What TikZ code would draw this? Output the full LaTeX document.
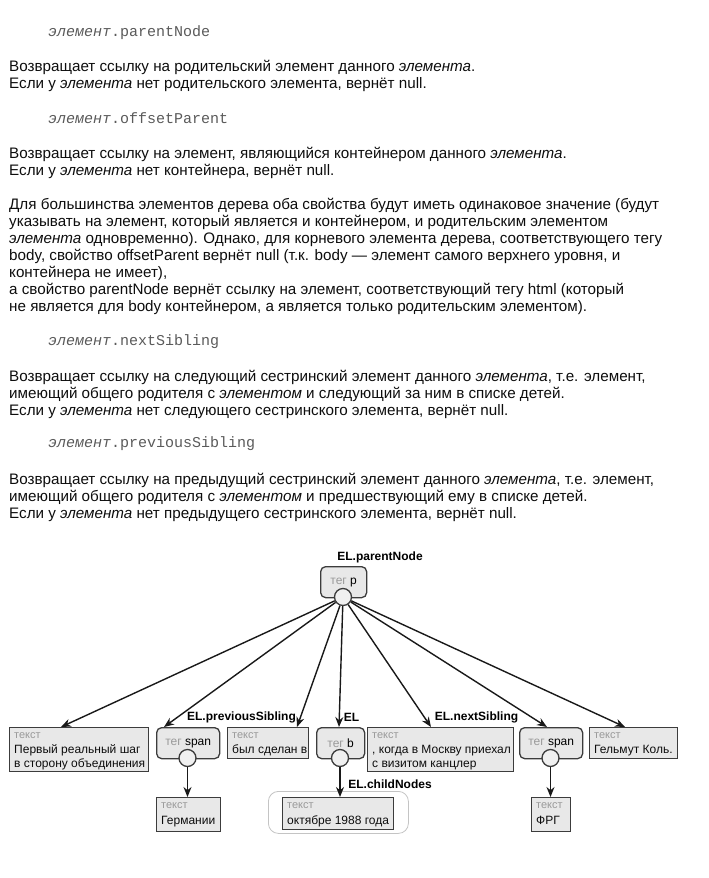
\documentclass[tikz,border=0pt]{standalone}
\usepackage{fontspec}
\setmainfont{Liberation Sans}
\setmonofont{Liberation Mono}
\usetikzlibrary{arrows.meta,calc}
\definecolor{boxfill}{HTML}{E8E8E8}
\definecolor{boxline}{HTML}{3C3C3C}
\definecolor{circfill}{HTML}{F0F0F0}
\definecolor{tgrey}{HTML}{9A9A9A}
\definecolor{monogrey}{HTML}{5A5A5A}
\definecolor{contline}{HTML}{C4C4C4}
\newcommand{\tg}{{\color{tgrey}тег}}
\begin{document}
\begin{tikzpicture}[x=1pt,y=-1pt,
  txt/.style={anchor=base west,inner sep=0pt,font=\fontsize{15.2}{17}\selectfont,text=black!95},
  mono/.style={anchor=base west,inner sep=0pt,font=\ttfamily\fontsize{15}{17}\selectfont,text=monogrey},
  tbox/.style={draw=boxline,fill=boxfill,line width=1.3pt,anchor=north west,inner sep=0pt},
  tagbox/.style={draw=boxline,fill=boxfill,line width=1.3pt,anchor=north west,rounded corners=5pt,inner sep=0pt,font=\fontsize{12}{14}\selectfont},
  circ/.style={circle,draw=boxline,fill=circfill,line width=1.3pt,minimum size=17pt,inner sep=0pt},
  lbl/.style={inner sep=0pt,font=\bfseries\fontsize{12}{14}\selectfont},
  bk/.style={anchor=base west,inner sep=0pt,font=\fontsize{11}{12}\selectfont,text=tgrey},
  bt/.style={anchor=base west,inner sep=0pt,font=\fontsize{12}{14}\selectfont,text=black!95},
  arr/.style={-{Stealth[length=10pt,width=8pt]},line width=1.4pt,draw=black!90},
  cont/.style={draw=contline,fill=white,line width=0.8pt,rounded corners=10pt,anchor=north west,inner sep=0pt}
]
\path[use as bounding box] (0,0) rectangle (709,878);

% ---- text ----
\node[mono] (m1) at (48,36) {{\itshape элемент}.parentNode};
\node[txt] (a1) at (9,71) {Возвращает ссылку на родительский элемент данного \textit{элемента}.};
\node[txt] (a2) at (9,88) {Если у \textit{элемента} нет родительского элемента, вернёт null.};
\node[mono] (m2) at (48,123) {{\itshape элемент}.offsetParent};
\node[txt] (b1) at (9,158) {Возвращает ссылку на элемент, являющийся контейнером данного \textit{элемента}.};
\node[txt] (b2) at (9,175) {Если у \textit{элемента} нет контейнера, вернёт null.};
\node[txt] (c1) at (9,209) {Для большинства элементов дерева оба свойства будут иметь одинаковое значение (будут};
\node[txt] (c2) at (9,226) {указывать на элемент, который является и контейнером, и родительским элементом};
\node[txt] (c3) at (9,243) {\textit{элемента} одновременно). Однако, для корневого элемента дерева, соответствующего тегу};
\node[txt] (c4) at (9,260) {body, свойство offsetParent вернёт null (т.к. body — элемент самого верхнего уровня, и};
\node[txt] (c5) at (9,277) {контейнера не имеет),};
\node[txt] (c6) at (9,294) {а свойство parentNode вернёт ссылку на элемент, соответствующий тегу html (который};
\node[txt] (c7) at (9,311) {не является для body контейнером, а является только родительским элементом).};
\node[mono] (m3) at (48,345) {{\itshape элемент}.nextSibling};
\node[txt] (d1) at (9,381) {Возвращает ссылку на следующий сестринский элемент данного \textit{элемента}, т.е. элемент,};
\node[txt] (d2) at (9,398) {имеющий общего родителя с \textit{элементом} и следующий за ним в списке детей.};
\node[txt] (d3) at (9,415) {Если у \textit{элемента} нет следующего сестринского элемента, вернёт null.};
\node[mono] (m4) at (48,447) {{\itshape элемент}.previousSibling};
\node[txt] (e1) at (9,484) {Возвращает ссылку на предыдущий сестринский элемент данного \textit{элемента}, т.е. элемент,};
\node[txt] (e2) at (9,501) {имеющий общего родителя с \textit{элементом} и предшествующий ему в списке детей.};
\node[txt] (e3) at (9,518) {Если у \textit{элемента} нет предыдущего сестринского элемента, вернёт null.};

% ---- diagram: parent ----
\node[tagbox,minimum width=46pt,minimum height=31pt] (pb) at (320,566) {\tg{} p};
\node[circ] (pc) at (343,597) {};
\node[lbl] (lp) at (380,557) {EL.parentNode};

% ---- children ----
\node[tbox,minimum width=139pt,minimum height=44pt] (t1) at (9,727) {};
\node[bk] (t1k) at ([xshift=5pt,yshift=-11pt]t1.north west) {текст};
\node[bt] (t1a) at ([xshift=5pt,yshift=-26pt]t1.north west) {Первый реальный шаг};
\node[bt] (t1b) at ([xshift=5pt,yshift=-40pt]t1.north west) {в сторону объединения};

\node[tagbox,minimum width=63pt,minimum height=31pt] (s1) at (156,727) {\tg{} span};
\node[circ] (s1c) at (187.5,758) {};

\node[tbox,minimum width=81pt,minimum height=31pt] (t3) at (227,727) {};
\node[bk] (t3k) at ([xshift=5pt,yshift=-11pt]t3.north west) {текст};
\node[bt] (t3a) at ([xshift=5pt,yshift=-26pt]t3.north west) {был сделан в};

\node[tagbox,minimum width=48pt,minimum height=31pt] (tb) at (316,727) {\tg{} b};
\node[circ] (bc) at (340,758) {};

\node[tbox,minimum width=146pt,minimum height=44pt] (t5) at (367,727) {};
\node[bk] (t5k) at ([xshift=5pt,yshift=-11pt]t5.north west) {текст};
\node[bt] (t5a) at ([xshift=5pt,yshift=-26pt]t5.north west) {, когда в Москву приехал};
\node[bt] (t5b) at ([xshift=5pt,yshift=-40pt]t5.north west) {с визитом канцлер};

\node[tagbox,minimum width=63pt,minimum height=31pt] (s2) at (519,727) {\tg{} span};
\node[circ] (s2c) at (550.5,758) {};

\node[tbox,minimum width=88pt,minimum height=31pt] (t7) at (589,727) {};
\node[bk] (t7k) at ([xshift=5pt,yshift=-11pt]t7.north west) {текст};
\node[bt] (t7a) at ([xshift=5pt,yshift=-26pt]t7.north west) {Гельмут Коль.};

\node[lbl] (lprev) at (241.5,717) {EL.previousSibling};
\node[lbl] (lel) at (351.5,717) {EL};
\node[lbl] (lnext) at (476.5,717) {EL.nextSibling};
\node[lbl] (lch) at (390,784) {EL.childNodes};

% ---- grandchildren ----
\node[tbox,minimum width=64pt,minimum height=34pt] (g1) at (156,797) {};
\node[bk] (g1k) at ([xshift=5pt,yshift=-11pt]g1.north west) {текст};
\node[bt] (g1a) at ([xshift=5pt,yshift=-27pt]g1.north west) {Германии};

\node[cont,minimum width=140pt,minimum height=42pt] (cn) at (268,791) {};
\node[tbox,minimum width=111pt,minimum height=32pt] (g2) at (282,797) {};
\node[bk] (g2k) at ([xshift=5pt,yshift=-11pt]g2.north west) {текст};
\node[bt] (g2a) at ([xshift=5pt,yshift=-27pt]g2.north west) {октябре 1988 года};

\node[tbox,minimum width=39pt,minimum height=34pt] (g3) at (531,797) {};
\node[bk] (g3k) at ([xshift=5pt,yshift=-11pt]g3.north west) {текст};
\node[bt] (g3a) at ([xshift=5pt,yshift=-27pt]g3.north west) {ФРГ};

% ---- connectors ----
\draw[arr] (pc) -- ([xshift=52pt]t1.north west);
\draw[arr] (pc) -- ([xshift=8pt]s1.north west);
\draw[arr] (pc) -- ([xshift=70pt]t3.north west);
\draw[arr] (pc) -- ([xshift=23pt]tb.north west);
\draw[arr] (pc) -- ([xshift=64pt]t5.north west);
\draw[arr] (pc) -- ([xshift=28pt]s2.north west);
\draw[arr] (pc) -- ([xshift=36pt]t7.north west);
\draw[arr] (s1c) -- (s1c |- g1.north);
\draw[arr] (bc) -- (bc |- g2.north);
\draw[arr] (s2c) -- (s2c |- g3.north);
\end{tikzpicture}
\end{document}
